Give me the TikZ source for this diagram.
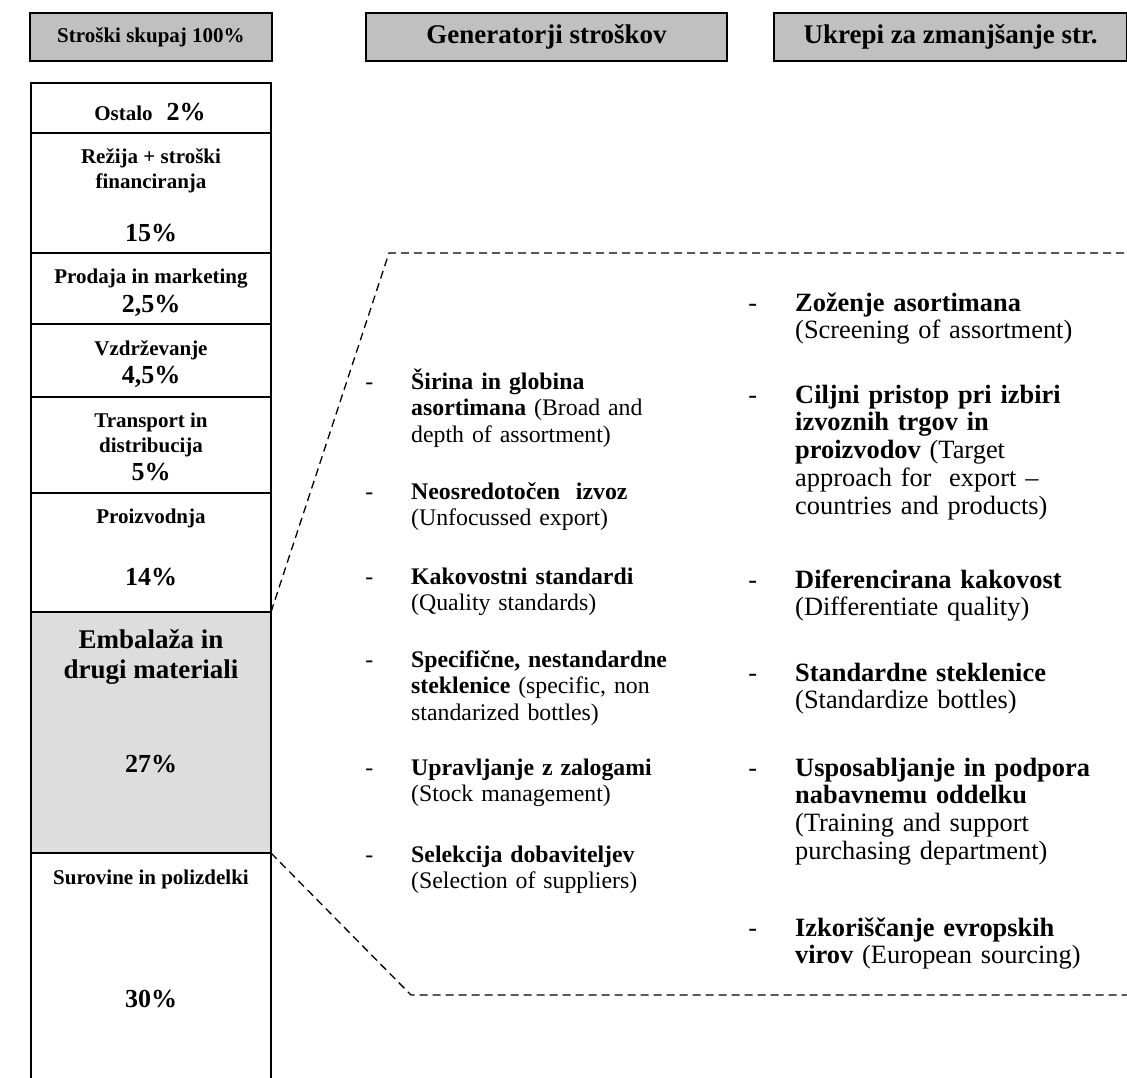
\documentclass[tikz,border=0pt]{standalone}
\usepackage{fontspec}
\setmainfont{Liberation Serif}
\definecolor{hdrgray}{HTML}{C0C0C0}
\definecolor{embgray}{HTML}{DDDDDD}
\begin{document}
\begin{tikzpicture}[x=1pt,y=-1pt,
  hdr/.style={draw, line width=2pt, fill=hdrgray, minimum height=48pt, inner sep=0pt, outer sep=0pt, anchor=north west},
  cell/.style={draw, line width=2pt, minimum width=240pt, inner sep=0pt, outer sep=0pt, anchor=north west},
  lbl/.style={anchor=base, inner sep=0pt, font=\fontsize{21}{24}\selectfont\bfseries},
  pct/.style={anchor=base, inner sep=0pt, font=\fontsize{26}{30}\selectfont\bfseries},
  big/.style={anchor=base, inner sep=0pt, font=\fontsize{27}{30}\selectfont\bfseries},
  mid/.style={anchor=base west, inner sep=0pt, align=left, text width=340pt, font=\fontsize{23.8}{26.5}\selectfont},
  rgt/.style={anchor=base west, inner sep=0pt, align=left, text width=330pt, font=\fontsize{26.4}{27.8}\selectfont},
  zoomline/.style={line width=1.3pt, dash pattern=on 8pt off 5pt}
]
\path[clip] (0,0) rectangle (1127,1077);
\fill[white] (0,0) rectangle (1127,1077);

% headers
\node[hdr, minimum width=242pt, font=\fontsize{21}{24}\selectfont\bfseries] (h1) at (30,13) {Stroški skupaj 100\%};
\node[hdr, minimum width=361pt, font=\fontsize{27}{30}\selectfont\bfseries] (h2) at (366,13) {Generatorji stroškov};
\node[hdr, minimum width=353pt, font=\fontsize{27}{30}\selectfont\bfseries] (h3) at (774,13) {Ukrepi za zmanjšanje str.};

% left column cells
\node[cell, minimum height=50pt]  (r1) at (31,83) {};
\node[cell, minimum height=120pt] (r2) at (31,133) {};
\node[cell, minimum height=71pt]  (r3) at (31,253) {};
\node[cell, minimum height=73pt]  (r4) at (31,324) {};
\node[cell, minimum height=96pt]  (r5) at (31,397) {};
\node[cell, minimum height=119pt] (r6) at (31,493) {};
\node[cell, minimum height=241pt, fill=embgray] (emb) at (31,612) {};
\node[cell, minimum height=240pt] (r8) at (31,853) {};

% left column texts
\node[lbl] (t1) at (150,120) {Ostalo\hspace{14pt}{\fontsize{26}{30}\selectfont 2\%}};
\node[lbl] (t2a) at (151,163) {Režija + stroški};
\node[lbl] (t2b) at (151,188) {financiranja};
\node[pct] (t2c) at (151,241) {15\%};
\node[lbl] (t3a) at (151,283) {Prodaja in marketing};
\node[pct] (t3b) at (151,312) {2,5\%};
\node[lbl] (t4a) at (151,355) {Vzdrževanje};
\node[pct] (t4b) at (151,383) {4,5\%};
\node[lbl] (t5a) at (151,427) {Transport in};
\node[lbl] (t5b) at (151,452) {distribucija};
\node[pct] (t5c) at (151,480) {5\%};
\node[lbl] (t6a) at (151,523) {Proizvodnja};
\node[pct] (t6b) at (151,585) {14\%};
\node[big] (t7a) at (151,648) {Embalaža in};
\node[big] (t7b) at (151,678) {drugi materiali};
\node[pct] (t7c) at (151,772) {27\%};
\node[lbl] (t8a) at (151,884) {Surovine in polizdelki};
\node[pct] (t8b) at (151,1007) {30\%};

% zoom connectors
\coordinate (uc) at (389,253);
\coordinate (ue) at (1127,253);
\coordinate (lc) at (411,995);
\coordinate (le) at (1127,995);
\draw[zoomline] (emb.north east) -- (uc) -- (ue);
\draw[zoomline] (emb.south east) -- (lc) -- (le);

% middle column
\node[mid] (m1) at (411,389) {\llap{-\hspace{38pt}}\textbf{Širina in globina}\\ \textbf{asortimana} (Broad and\\ depth of assortment)};
\node[mid] (m2) at (411,499) {\llap{-\hspace{38pt}}\textbf{Neosredotočen\ \ izvoz}\\ (Unfocussed export)};
\node[mid] (m3) at (411,584) {\llap{-\hspace{38pt}}\textbf{Kakovostni standardi}\\ (Quality standards)};
\node[mid] (m4) at (411,667) {\llap{-\hspace{38pt}}\textbf{Specifične, nestandardne}\\ \textbf{steklenice} (specific, non\\ standarized bottles)};
\node[mid] (m5) at (411,775) {\llap{-\hspace{38pt}}\textbf{Upravljanje z zalogami}\\ (Stock management)};
\node[mid] (m6) at (411,862) {\llap{-\hspace{38pt}}\textbf{Selekcija dobaviteljev}\\ (Selection of suppliers)};

% right column
\node[rgt] (k1) at (795,311) {\llap{-\hspace{38pt}}\textbf{Zoženje asortimana}\\ (Screening of assortment)};
\node[rgt] (k2) at (795,403) {\llap{-\hspace{38pt}}\textbf{Ciljni pristop pri izbiri}\\ \textbf{izvoznih trgov in}\\ \textbf{proizvodov} (Target\\ approach for\ \ export –\\ countries and products)};
\node[rgt] (k3) at (795,588) {\llap{-\hspace{38pt}}\textbf{Diferencirana kakovost}\\ (Differentiate quality)};
\node[rgt] (k4) at (795,681) {\llap{-\hspace{38pt}}\textbf{Standardne steklenice}\\ (Standardize bottles)};
\node[rgt] (k5) at (795,776) {\llap{-\hspace{38pt}}\textbf{Usposabljanje in podpora}\\ \textbf{nabavnemu oddelku}\\ (Training and support\\ purchasing department)};
\node[rgt] (k6) at (795,936) {\llap{-\hspace{38pt}}\textbf{Izkoriščanje evropskih}\\ \textbf{virov} (European sourcing)};
\end{tikzpicture}
\end{document}
